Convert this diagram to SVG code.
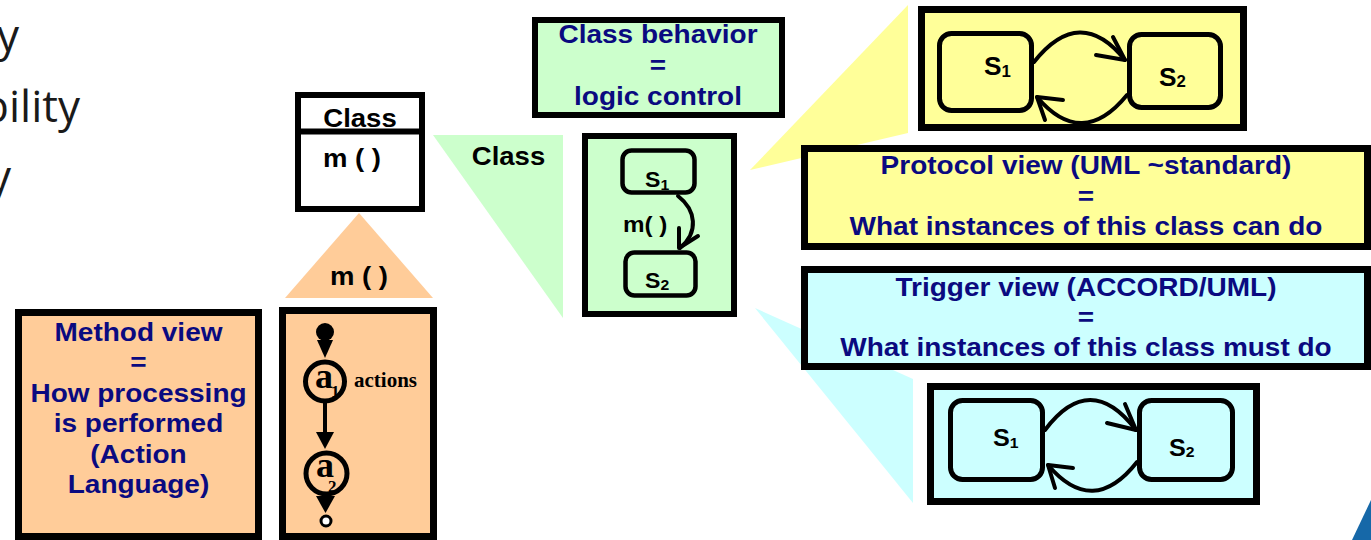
<svg xmlns="http://www.w3.org/2000/svg" width="1371" height="540" viewBox="0 0 1371 540">
<style>
  .box{stroke:#000;stroke-width:7}
  .green{fill:#CCFFCC}
  .yellow{fill:#FFFF99}
  .cyan{fill:#CCFFFF}
  .peach{fill:#FFCC99}
  .state{stroke:#000;stroke-width:5}
  .lbl{font-family:"Liberation Sans",Arial,sans-serif;font-weight:bold;font-size:25px;fill:#0A0A80;text-anchor:middle}
  .blk{font-family:"Liberation Sans",Arial,sans-serif;font-weight:bold;fill:#000}
  .sn{font-family:"Liberation Sans",Arial,sans-serif;font-weight:bold;fill:#000}
  .ser{font-family:"Liberation Serif","Times New Roman",serif;font-weight:bold;fill:#000}
  .bul{font-family:"Open Sans",sans-serif;font-size:44px;fill:#1a1a1a;text-anchor:end}
  .arc{fill:none;stroke:#000;stroke-width:4;stroke-linecap:round;stroke-linejoin:round}
</style>

<!-- bullet text cut at the left edge -->
<g id="side-text">
  <text class="bul" x="19" y="51">y</text>
  <text class="bul" x="80" y="122">bility</text>
  <text class="bul" x="11" y="192">y</text>
</g>

<!-- callout wedges -->
<g id="callouts">
  <polygon class="peach" points="359,213 285,298 433,298"/>
  <polygon class="green" points="433,135 563,135 563,318"/>
  <polygon class="yellow" points="750,170 908,5 908,133"/>
  <polygon class="cyan" points="755,308 913,379 913,503"/>
  <polygon fill="#1668A8" points="1371,500 1352,540 1371,540"/>
</g>

<g id="callout-labels">
  <g transform="translate(359 285) scale(1.1 1)"><text class="blk" x="0" y="0" font-size="25" text-anchor="middle">m ( )</text></g>
  <g transform="translate(508.5 165) scale(1.1 1)"><text class="blk" x="0" y="0" font-size="25" text-anchor="middle">Class</text></g>
</g>

<!-- UML class -->
<g id="class-box">
  <rect x="298" y="95" width="124" height="114" fill="#fff" stroke="#000" stroke-width="6"/>
  <line x1="298" y1="131.5" x2="422" y2="131.5" stroke="#000" stroke-width="6"/>
  <g transform="translate(360 127) scale(1.1 1)"><text class="blk" x="0" y="0" font-size="25" text-anchor="middle">Class</text></g>
  <g transform="translate(323 167) scale(1.1 1)"><text class="blk" x="0" y="0" font-size="25">m ( )</text></g>
</g>

<!-- method view -->
<g id="method-view">
  <rect class="box peach" x="18.5" y="312.5" width="240" height="224"/>
  <g transform="translate(138.5 0) scale(1.12 1)">
    <text class="lbl" x="0" y="341">Method view</text>
    <text class="lbl" x="0" y="371.5">=</text>
    <text class="lbl" x="0" y="402">How processing</text>
    <text class="lbl" x="0" y="432">is performed</text>
    <text class="lbl" x="0" y="463">(Action</text>
    <text class="lbl" x="0" y="493">Language)</text>
  </g>
</g>

<!-- activity diagram -->
<g id="action-box">
  <rect class="box peach" x="282.5" y="310.5" width="151" height="226"/>
  <circle cx="325" cy="332" r="9" fill="#000"/>
  <circle cx="325" cy="381.5" r="19.5" fill="none" stroke="#000" stroke-width="5"/>
  <text class="ser" x="315" y="388" font-size="36">a</text>
  <text class="ser" x="331" y="397" font-size="17">1</text>
  <text class="ser" x="354" y="387" font-size="21">actions</text>
  <circle cx="326.5" cy="473.5" r="20.5" fill="none" stroke="#000" stroke-width="5"/>
  <text class="ser" x="316" y="477" font-size="36">a</text>
  <text class="ser" x="328" y="492" font-size="17">2</text>
  <circle cx="326" cy="521" r="5" fill="#fff" stroke="#000" stroke-width="3"/>
</g>

<!-- class behaviour -->
<g id="class-behavior">
  <rect class="green" x="535" y="20" width="247" height="95" stroke="#000" stroke-width="6"/>
  <g transform="translate(658 0) scale(1.12 1)">
    <text class="lbl" x="0" y="43">Class behavior</text>
    <text class="lbl" x="0" y="74">=</text>
    <text class="lbl" x="0" y="105">logic control</text>
  </g>
</g>

<g id="state-machine">
  <rect class="green" x="585" y="136" width="149" height="178" stroke="#000" stroke-width="6"/>
  <rect class="green" x="622.5" y="150.5" width="72" height="42" rx="9" stroke="#000" stroke-width="4.5"/>
  <rect class="green" x="625.5" y="252.5" width="70" height="43" rx="9" stroke="#000" stroke-width="4.5"/>
  <g transform="translate(645 187) scale(1.05 1)"><text class="sn" x="0" y="0" font-size="22">S<tspan font-size="15" dy="3">1</tspan></text></g>
  <g transform="translate(645 288) scale(1.05 1)"><text class="sn" x="0" y="0" font-size="22">S<tspan font-size="15" dy="2">2</tspan></text></g>
  <g transform="translate(623 232) scale(1.1 1)"><text class="blk" x="0" y="0" font-size="22">m( )</text></g>
</g>

<!-- protocol view -->
<g id="protocol-states">
  <rect class="box yellow" x="921.5" y="9.5" width="322" height="118"/>
  <rect class="state yellow" x="939.5" y="33.5" width="92" height="77" rx="12"/>
  <rect class="state yellow" x="1129.5" y="34.5" width="91" height="73" rx="12"/>
  <g transform="translate(984 75) scale(1.05 1)"><text class="sn" x="0" y="0" font-size="25">S<tspan font-size="16" dy="2">1</tspan></text></g>
  <g transform="translate(1159 86) scale(1.05 1)"><text class="sn" x="0" y="0" font-size="25">S<tspan font-size="16" dy="1">2</tspan></text></g>
</g>

<g id="protocol-view">
  <rect class="box yellow" x="804.5" y="148.5" width="563" height="98"/>
  <g transform="translate(1086 0) scale(1.12 1)">
    <text class="lbl" x="0" y="174">Protocol view (UML ~standard)</text>
    <text class="lbl" x="0" y="205">=</text>
    <text class="lbl" x="0" y="235">What instances of this class can do</text>
  </g>
</g>

<!-- trigger view -->
<g id="trigger-view">
  <rect class="box cyan" x="804.5" y="269.5" width="563" height="97"/>
  <g transform="translate(1086 0) scale(1.12 1)">
    <text class="lbl" x="0" y="296">Trigger view (ACCORD/UML)</text>
    <text class="lbl" x="0" y="326">=</text>
    <text class="lbl" x="0" y="356">What instances of this class must do</text>
  </g>
</g>

<g id="trigger-states">
  <rect class="box cyan" x="930.5" y="386.5" width="326" height="115"/>
  <rect class="state cyan" x="950.5" y="400.5" width="92" height="79" rx="12"/>
  <rect class="state cyan" x="1139.5" y="400.5" width="93" height="79" rx="12"/>
  <g transform="translate(993 446) scale(1.05 1)"><text class="sn" x="0" y="0" font-size="24">S<tspan font-size="15" dy="2">1</tspan></text></g>
  <g transform="translate(1169 456) scale(1.05 1)"><text class="sn" x="0" y="0" font-size="24">S<tspan font-size="15" dy="1">2</tspan></text></g>
</g>

<!-- transitions -->
<g id="connectors">
  <!-- activity flow -->
  <polygon points="317,340 333,340 325,358" fill="#000"/>
  <line x1="325" y1="403" x2="325" y2="433" stroke="#000" stroke-width="4"/>
  <polygon points="316,432 334,432 325,449" fill="#000"/>
  <polygon points="316,496 335,496 325.5,513" fill="#000"/>
  <!-- m() transition -->
  <path class="arc" d="M678,196 C696,210 699,232 680,248"/>
  <path class="arc" d="M679,228 L679,248 L698,236"/>
  <!-- protocol S1/S2 -->
  <path class="arc" d="M1034,62 Q1080,4 1125,60"/>
  <path class="arc" d="M1096,55 L1125,60 L1113,37"/>
  <path class="arc" d="M1127,95 Q1082,150 1037,97"/>
  <path class="arc" d="M1063,100 L1037,97 L1045,120"/>
  <!-- trigger S1/S2 -->
  <path class="arc" d="M1045,430 Q1090,370 1136,430"/>
  <path class="arc" d="M1107,423 L1136,430 L1125,404"/>
  <path class="arc" d="M1137,462 Q1093,518 1048,465"/>
  <path class="arc" d="M1073,468 L1048,465 L1055,488"/>
</g>
</svg>
